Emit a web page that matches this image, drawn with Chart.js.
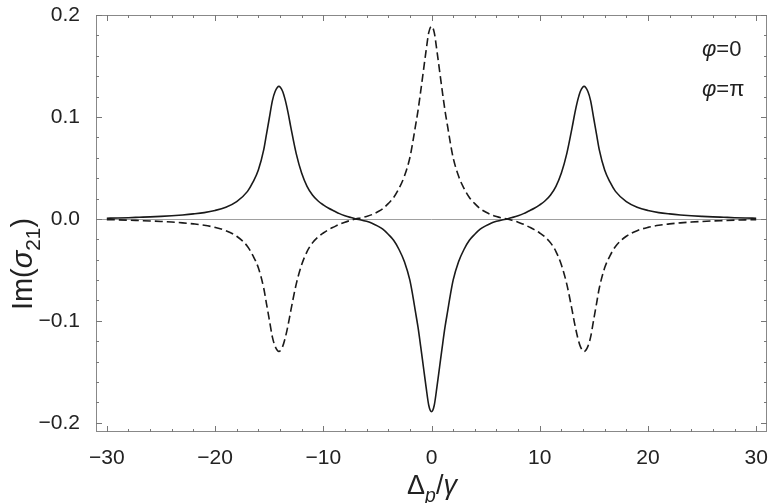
<!DOCTYPE html>
<html>
<head>
<meta charset="utf-8">
<script src="https://cdn.jsdelivr.net/npm/chart.js@4.4.1/dist/chart.umd.min.js"></script>
<style>
  html, body { margin: 0; padding: 0; background: #fff; }
  #wrap { width: 769px; height: 503px; }
</style>
</head>
<body>
<div id="wrap"><canvas id="chart" width="769" height="503"></canvas></div>
<script>
// -- Data --
const deltaP = [-30,-29,-28,-27,-26,-25,-24,-23,-22,-21,-20,-19,-18,-17,-16.5,-16,-15.5,-15.25,-15,-14.7,-14.45,-14.1,
  -13.75,-13.5,-13.25,-13,-12.5,-12,-11.5,-11,-10.5,-10,-9.5,-9,-8.5,-8,-7.5,-7,-6.5,-6,-5.5,-5,-4.5,-4,-3.5,-3,-2.5,-2,
  -1.75,-1.5,-1.25,-1,-0.75,-0.5,-0.25,0,0.25,0.5,0.75,1,1.25,1.5,1.75,2,2.5,3,3.5,4,4.5,5,5.5,6,6.5,7,7.5,8,8.5,9,9.5,
  10,10.5,11,11.5,12,12.5,13,13.25,13.5,13.75,14.1,14.45,14.7,15,15.25,15.5,16,16.5,17,18,19,20,21,22,23,24,25,26,27,28,29,30];

// phi = 0 (solid)
const imPhi0 = [0.0007,0.0009,0.0012,0.0016,0.0020,0.0025,0.0031,0.0039,0.0049,0.0062,0.0083,0.0115,0.017,0.027,0.036,0.048,0.068,0.083,0.098,0.116,0.125,0.130,
  0.125,0.116,0.104,0.090,0.064,0.045,0.032,0.0235,0.0178,0.0138,0.0105,0.0078,0.0052,0.0032,0.0015,0,-0.0010,-0.0024,-0.0042,-0.0068,-0.010,-0.015,-0.021,-0.030,-0.042,-0.060,
  -0.074,-0.090,-0.106,-0.125,-0.145,-0.165,-0.183,-0.189,-0.183,-0.165,-0.145,-0.125,-0.106,-0.090,-0.074,-0.060,-0.042,-0.030,-0.021,-0.015,-0.010,-0.0068,-0.0042,-0.0024,-0.0010,0,0.0015,0.0032,0.0052,0.0078,0.0105,
  0.0138,0.0178,0.0235,0.032,0.045,0.064,0.090,0.104,0.116,0.125,0.130,0.125,0.116,0.098,0.083,0.068,0.048,0.036,0.027,0.017,0.0115,0.0083,0.0062,0.0049,0.0039,0.0031,0.0025,0.0020,0.0016,0.0012,0.0009,0.0007];

// phi = pi (dashed)
const imPhiPi = [-0.0007,-0.0009,-0.0012,-0.0016,-0.0020,-0.0025,-0.0031,-0.0039,-0.0049,-0.0062,-0.0083,-0.0115,-0.017,-0.027,-0.036,-0.048,-0.068,-0.083,-0.098,-0.116,-0.125,-0.130,
  -0.125,-0.116,-0.104,-0.090,-0.064,-0.045,-0.032,-0.0235,-0.0178,-0.0138,-0.0105,-0.0078,-0.0052,-0.0032,-0.0015,0,0.0010,0.0024,0.0042,0.0068,0.010,0.015,0.021,0.030,0.042,0.060,
  0.074,0.090,0.106,0.125,0.145,0.165,0.183,0.189,0.183,0.165,0.145,0.125,0.106,0.090,0.074,0.060,0.042,0.030,0.021,0.015,0.010,0.0068,0.0042,0.0024,0.0010,0,-0.0015,-0.0032,-0.0052,-0.0078,-0.0105,
  -0.0138,-0.0178,-0.0235,-0.032,-0.045,-0.064,-0.090,-0.104,-0.116,-0.125,-0.130,-0.125,-0.116,-0.098,-0.083,-0.068,-0.048,-0.036,-0.027,-0.017,-0.0115,-0.0083,-0.0062,-0.0049,-0.0039,-0.0031,-0.0025,-0.0020,-0.0016,-0.0012,-0.0009,-0.0007];

// -- Ticks --
const xTicks = [-30, -20, -10, 0, 10, 20, 30];
const xMinor = [-30,-28,-26,-24,-22,-20,-18,-16,-14,-12,-10,-8,-6,-4,-2,0,2,4,6,8,10,12,14,16,18,20,22,24,26,28,30];
const yTicks = [-0.2, -0.1, 0.0, 0.1, 0.2];
const yMinor = [-0.2,-0.18,-0.16,-0.14,-0.12,-0.1,-0.08,-0.06,-0.04,-0.02,0,0.02,0.04,0.06,0.08,0.1,0.12,0.14,0.16,0.18,0.2];

const FONT = '"Liberation Sans", Arial, sans-serif';
const INK = '#222';

function minus(s) { return String(s).replace('-', '\u2212'); }

// draw a run of text pieces: {t, it (italic), sub}
function richText(ctx, parts, size, x, y) {
  let widths = parts.map(p => {
    ctx.font = (p.it ? 'italic ' : '') + (p.sub ? size * 0.72 : size) + 'px ' + FONT;
    return ctx.measureText(p.t).width;
  });
  const total = widths.reduce((a, b) => a + b, 0);
  let cx = x - total / 2;
  parts.forEach((p, i) => {
    ctx.font = (p.it ? 'italic ' : '') + (p.sub ? size * 0.72 : size) + 'px ' + FONT;
    ctx.fillText(p.t, cx, y + (p.sub ? size * 0.28 : 0));
    cx += widths[i];
  });
}

// no extra room for end labels - chart area is fixed
function noPad(s) {
  s.paddingLeft = 0; s.paddingRight = 0; s.paddingTop = 0; s.paddingBottom = 0;
}

const framePlugin = {
  id: 'frame',
  beforeDatasetsDraw(chart) {
    const { ctx, chartArea: a, scales: { y } } = chart;
    const y0 = Math.round(y.getPixelForValue(0)) + 0.5;
    ctx.save();
    ctx.strokeStyle = '#a0a0a0';
    ctx.lineWidth = 1;
    ctx.beginPath();
    ctx.moveTo(a.left, y0);
    ctx.lineTo(a.right, y0);
    ctx.stroke();
    ctx.restore();
  },
  afterDraw(chart) {
    const { ctx, chartArea: a, scales: { x, y } } = chart;
    ctx.save();
    ctx.strokeStyle = '#888';
    ctx.lineWidth = 1;
    ctx.strokeRect(a.left + 0.5, a.top + 0.5, a.right - a.left - 1, a.bottom - a.top - 1);

    // inward ticks on all four sides
    ctx.strokeStyle = '#777';
    ctx.beginPath();
    xMinor.forEach(v => {
      const px = Math.round(x.getPixelForValue(v)) + 0.5;
      const len = xTicks.includes(v) ? 6 : 3;
      ctx.moveTo(px, a.bottom); ctx.lineTo(px, a.bottom - len);
      ctx.moveTo(px, a.top); ctx.lineTo(px, a.top + len);
    });
    yMinor.forEach(v => {
      const py = Math.round(y.getPixelForValue(v)) + 0.5;
      const len = yTicks.some(t => Math.abs(t - v) < 1e-9) ? 6 : 3;
      ctx.moveTo(a.left, py); ctx.lineTo(a.left + len, py);
      ctx.moveTo(a.right, py); ctx.lineTo(a.right - len, py);
    });
    ctx.stroke();

    // axis titles
    ctx.fillStyle = INK;
    ctx.textBaseline = 'alphabetic';
    ctx.textAlign = 'left';
    richText(ctx, [{ t: '\u0394' }, { t: 'p', it: true, sub: true }, { t: '/' }, { t: '\u03b3', it: true }], 27, 432, 494);

    ctx.save();
    ctx.translate(32, 264);
    ctx.rotate(-Math.PI / 2);
    richText(ctx, [{ t: 'Im(' }, { t: '\u03c3', it: true }, { t: '21', sub: true }, { t: ')' }], 29, 0, 0);
    ctx.restore();

    // legend labels
    const lx = 702;
    [[56, '0'], [96, '\u03c0']].forEach(([ly, val]) => {
      ctx.font = 'italic 22px ' + FONT;
      ctx.fillText('\u03c6', lx, ly);
      const w = ctx.measureText('\u03c6').width;
      ctx.font = '22px ' + FONT;
      ctx.fillText('=' + val, lx + w, ly);
    });
    ctx.restore();
  }
};

const ctx = document.getElementById('chart').getContext('2d');
new Chart(ctx, {
  type: 'line',
  data: {
    datasets: [
      {
        label: '\u03c6=0',
        data: deltaP.map((d, i) => ({ x: d, y: imPhi0[i] })),
        borderColor: '#1a1a1a',
        borderWidth: 1.6,
        pointRadius: 0,
        cubicInterpolationMode: 'monotone',
        fill: false
      },
      {
        label: '\u03c6=\u03c0',
        data: deltaP.map((d, i) => ({ x: d, y: imPhiPi[i] })),
        borderColor: '#1a1a1a',
        borderWidth: 1.6,
        borderDash: [8, 4],
        pointRadius: 0,
        cubicInterpolationMode: 'monotone',
        fill: false
      }
    ]
  },
  options: {
    responsive: false,
    animation: false,
    events: [],
    layout: { padding: { top: 15, right: 2, left: 0, bottom: 0 } },
    plugins: { legend: { display: false }, tooltip: { enabled: false } },
    scales: {
      x: {
        type: 'linear',
        min: -31,
        max: 31,
        grid: { display: false },
        border: { display: false },
        afterBuildTicks: s => { s.ticks = xTicks.map(v => ({ value: v })); },
        afterFit: s => { s.height = 71; noPad(s); },
        ticks: {
          padding: 6,
          color: INK,
          font: { size: 21, family: FONT },
          maxRotation: 0,
          callback: v => minus(v)
        }
      },
      y: {
        min: -0.209,
        max: 0.2,
        grid: { display: false },
        border: { display: false },
        afterBuildTicks: s => { s.ticks = yTicks.map(v => ({ value: v })); },
        afterFit: s => { s.width = 96; noPad(s); },
        ticks: {
          padding: 8,
          color: INK,
          font: { size: 21, family: FONT },
          callback: v => minus(v.toFixed(1))
        }
      }
    }
  },
  plugins: [framePlugin]
});
</script>
</body>
</html>
